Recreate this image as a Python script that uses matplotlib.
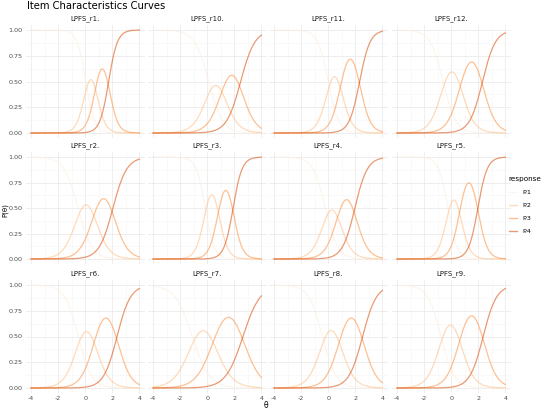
import numpy as np
import matplotlib
matplotlib.use("Agg")
import matplotlib.pyplot as plt
from matplotlib.lines import Line2D

# graded response model item parameters
items = ['LPFS_r1.', 'LPFS_r10.', 'LPFS_r11.', 'LPFS_r12.',
         'LPFS_r2.', 'LPFS_r3.', 'LPFS_r4.', 'LPFS_r5.',
         'LPFS_r6.', 'LPFS_r7.', 'LPFS_r8.', 'LPFS_r9.']
a_par = [3.10, 1.92, 2.61, 2.10, 1.97, 3.02, 2.18, 2.93, 2.02, 1.57, 1.97, 2.03]
b1_par = [0.05, 0.11, 0.00, -0.60, -0.53, -0.15, -0.21, -0.25, -0.51, -1.10, -0.42, -0.75]
b2_par = [0.79, 1.15, 0.94, 0.70, 0.67, 0.83, 0.75, 0.65, 0.71, 0.50, 0.86, 0.65]
b3_par = [1.73, 2.47, 2.32, 2.31, 2.05, 1.91, 1.97, 1.97, 2.35, 2.64, 2.54, 2.36]

responses = ['P.1', 'P.2', 'P.3', 'P.4']
colors = ['#FEEDDE', '#FDBE85', '#FD8D3C', '#D94701']
line_alpha = 0.55

theta = np.linspace(-4, 4, 300)


def logistic(x):
    return 1.0 / (1.0 + np.exp(-x))


W, H = 550, 412
fig = plt.figure(figsize=(W / 100, H / 100), dpi=100)
fig.patch.set_facecolor('white')

# panel geometry in pixels (x of theta=-4, y of P=1 / P=0)
col_x = [31, 153, 274, 397]
px_per_unit = 13.55
row_y = [(30, 133), (157, 259), (285, 388)]

grid_major = '#EBEBEB'
grid_minor = '#F5F5F5'
txt_col = '#4D4D4D'

for i, name in enumerate(items):
    r, c = divmod(i, 4)
    x0 = col_x[c] - 0.4 * px_per_unit
    w = 8.8 * px_per_unit
    ytop, ybot = row_y[r]
    span = ybot - ytop
    top = ytop - 0.05 * span
    h = 1.1 * span
    ax = fig.add_axes([x0 / W, 1 - (top + h) / H, w / W, h / H])
    ax.set_xlim(-4.4, 4.4)
    ax.set_ylim(-0.05, 1.05)

    p1 = logistic(a_par[i] * (theta - b1_par[i]))
    p2 = logistic(a_par[i] * (theta - b2_par[i]))
    p3 = logistic(a_par[i] * (theta - b3_par[i]))
    probs = [1 - p1, p1 - p2, p2 - p3, p3]
    for k, p in enumerate(probs):
        ax.plot(theta, p, color=colors[k], lw=0.9, alpha=line_alpha, zorder=3)

    ax.set_xticks([-4, -2, 0, 2, 4])
    ax.set_xticks([-3, -1, 1, 3], minor=True)
    ax.set_yticks([0, 0.25, 0.5, 0.75, 1.0])
    ax.set_yticks([0.125, 0.375, 0.625, 0.875], minor=True)
    ax.grid(which='major', color=grid_major, lw=0.6, zorder=0)
    ax.grid(which='minor', color=grid_minor, lw=0.4, zorder=0)
    ax.set_axisbelow(True)
    for s in ax.spines.values():
        s.set_visible(False)
    ax.tick_params(which='both', length=0, labelsize=4.6, colors=txt_col, pad=2)
    if c == 0:
        ax.set_yticklabels(['0.00', '0.25', '0.50', '0.75', '1.00'])
    else:
        ax.set_yticklabels([])
    if r == 2:
        ax.set_xticklabels(['-4', '-2', '0', '2', '4'])
    else:
        ax.set_xticklabels([])
    ax.set_title(name, fontsize=5, color='#1A1A1A', pad=3)

fig.text(27 / W, 1 - 6 / H, 'Item Characteristics Curves', fontsize=7.2,
         color='black', ha='left', va='center')
fig.text(5.5 / W, 1 - 210 / H, 'P(θ)', fontsize=5, rotation=90,
         ha='center', va='center', color='black')
fig.text(266 / W, 1 - 405 / H, 'θ', fontsize=5.5, ha='center', va='center',
         color='black')

handles = [Line2D([0], [0], color=colors[k], lw=1.0, alpha=line_alpha)
           for k in range(4)]
leg = fig.legend(handles, responses, title='response', loc='upper left',
                 bbox_to_anchor=(503 / W, 1 - 170 / H), frameon=False,
                 fontsize=4.6, title_fontsize=5.2, handlelength=1.3,
                 labelspacing=1.2, alignment='left')

fig.savefig('out.png', dpi=100)
